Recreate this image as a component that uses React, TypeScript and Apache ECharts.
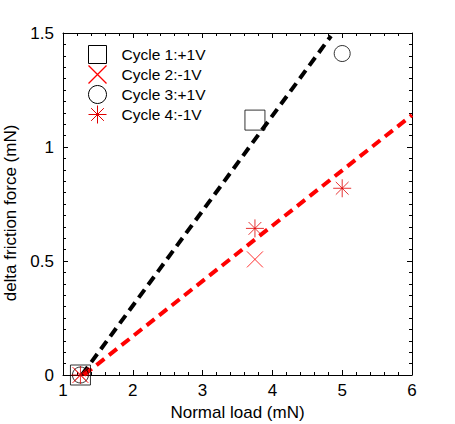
import React, { useEffect, useRef } from "react";
import * as echarts from "echarts";

const cycle1 = [[1.25, 0], [3.75, 1.118]];
const cycle2 = [[1.25, 0], [3.75, 0.507]];
const cycle3 = [[1.25, 0], [5.0, 1.41]];
const cycle4 = [[1.25, 0], [3.75, 0.643], [5.0, 0.819]];
const fitBlack = [[1.27, 0], [4.84, 1.487]];
const fitRed = [[1.3, 0], [6.0, 1.14]];
const names = ["Cycle 1:+1V", "Cycle 2:-1V", "Cycle 3:+1V", "Cycle 4:-1V"];

const FONT = "Liberation Sans";
const SQUARE = "path://M0,0L10,0L10,10L0,10Z";
const CIRCLE = "circle";
const CROSS = "path://M0,0L10,10M10,0L0,10";
const STAR = "path://M0,5L10,5M5,0L5,10M1.46,1.46L8.54,8.54M8.54,1.46L1.46,8.54";
const symbols = [SQUARE, CROSS, CIRCLE, STAR];
const colors = ["#000", "#ff0000", "#000", "#e00000"];

export default function App() {
  const ref = useRef<HTMLDivElement>(null);
  useEffect(() => {
    const chart = echarts.init(ref.current!, null, { renderer: "svg" });
    const axisCommon = {
      axisLine: { show: true, onZero: false, lineStyle: { color: "#000", width: 1 } },
      axisTick: { show: true, inside: true, length: 5, lineStyle: { color: "#000" } },
      minorTick: { show: true, length: 3, lineStyle: { color: "#000" } },
      splitLine: { show: false },
    };
    const scatter = (i: number, data: number[][], size: number) => ({
      name: names[i],
      type: "scatter",
      data,
      symbol: symbols[i],
      symbolSize: size,
      itemStyle: { color: "none", borderColor: colors[i], borderWidth: 1 },
      z: 3,
    });
    chart.setOption({
      animation: false,
      textStyle: { fontFamily: FONT },
      grid: { left: 63, right: 43, top: 33, bottom: 49, outerBoundsMode: "none", containLabel: false },
      xAxis: [
        {
          ...axisCommon,
          type: "value",
          min: 1,
          max: 6,
          interval: 1,
          minorTick: { ...axisCommon.minorTick, splitNumber: 5 },
          axisLabel: { color: "#000", fontSize: 17, margin: 7, fontFamily: FONT },
          name: "Normal load (mN)",
          nameLocation: "middle",
          nameGap: 27,
          nameTextStyle: { color: "#000", fontSize: 17, fontFamily: FONT },
        },
        {
          ...axisCommon,
          type: "value",
          position: "top",
          min: 1,
          max: 6,
          interval: 1,
          minorTick: { ...axisCommon.minorTick, splitNumber: 5 },
          axisLabel: { show: false },
        },
      ],
      yAxis: [
        {
          ...axisCommon,
          type: "value",
          min: 0,
          max: 1.5,
          interval: 0.5,
          minorTick: { ...axisCommon.minorTick, splitNumber: 10 },
          axisLabel: { color: "#000", fontSize: 17, margin: 9, fontFamily: FONT },
          name: "delta friction force (mN)",
          nameLocation: "middle",
          nameGap: 40,
          nameTextStyle: { color: "#000", fontSize: 17, fontFamily: FONT, padding: [0, 18, 0, 0] },
        },
        {
          ...axisCommon,
          type: "value",
          position: "right",
          min: 0,
          max: 1.5,
          interval: 0.5,
          minorTick: { ...axisCommon.minorTick, splitNumber: 10 },
          axisLabel: { show: false },
        },
      ],
      legend: {
        orient: "vertical",
        left: 81,
        top: 38,
        itemWidth: 18,
        itemHeight: 18,
        itemGap: -3,
        selectedMode: false,
        data: names.map((n, i) => ({
          name: n,
          icon: symbols[i],
          itemStyle: { color: "none", borderColor: colors[i], borderWidth: i === 1 ? 1.3 : 1, opacity: 1 },
        })),
        textStyle: { color: "#000", fontSize: 15.5, fontFamily: FONT, padding: [0, 0, 0, 10] },
      },
      series: [
        {
          type: "line",
          data: fitBlack,
          symbol: "none",
          silent: true,
          lineStyle: { color: "#000", width: 4, type: [10, 6] },
          z: 1,
        },
        {
          type: "line",
          data: fitRed,
          symbol: "none",
          silent: true,
          lineStyle: { color: "#ff0000", width: 4, type: [10, 6] },
          z: 1,
        },
        scatter(0, cycle1, 20),
        scatter(1, cycle2, 16),
        scatter(2, cycle3, 16),
        scatter(3, cycle4, 18),
      ],
    });
    return () => chart.dispose();
  }, []);
  return (
    <div
      ref={ref}
      style={{ position: "fixed", left: 0, top: 0, width: 455, height: 424, background: "#fff" }}
    />
  );
}
